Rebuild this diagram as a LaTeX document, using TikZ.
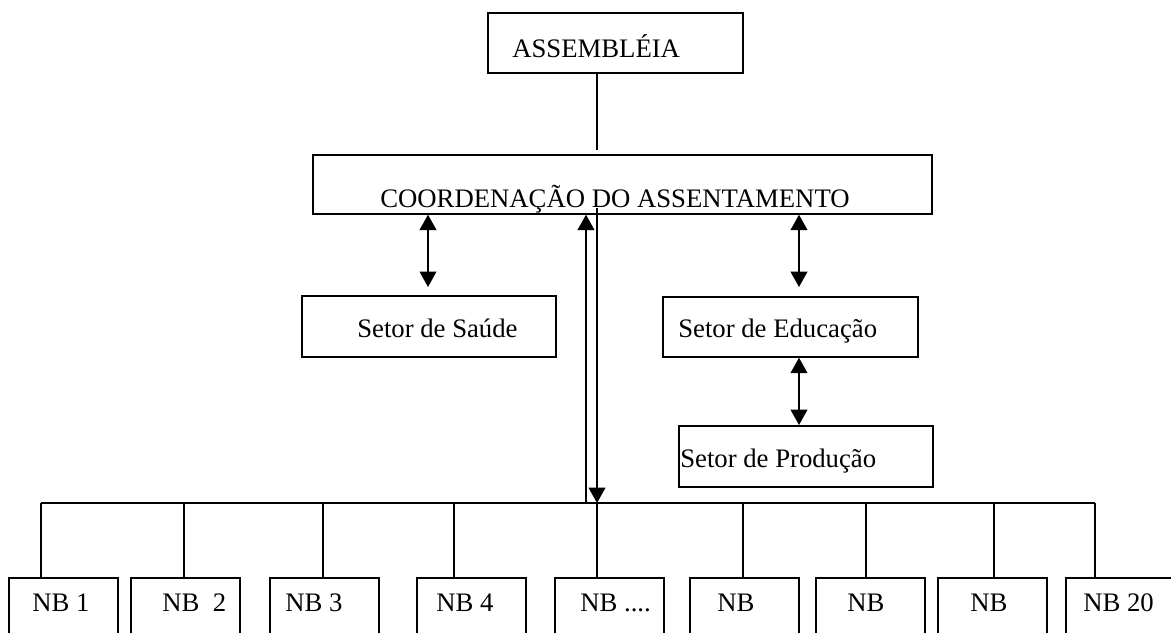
\documentclass[tikz,border=0pt]{standalone}
\usepackage{fontspec}
\setmainfont{Liberation Serif}
\usetikzlibrary{arrows.meta,fit}
\tikzset{
  caixa/.style={draw,line width=1pt,inner sep=0pt},
  rotulo/.style={anchor=base west,inner sep=0pt,font=\fontsize{19}{23}\selectfont},
  ponta/.tip={Triangle[length=11pt,width=12pt]},
  seta/.style={line width=1pt,ponta-ponta},
  linha/.style={line width=1pt}
}
\begin{document}
\begin{tikzpicture}[x=0.025cm,y=-0.025cm]
      \useasboundingbox (0,0) rectangle (1171,632);
      \clip (0,0) rectangle (1171,632);
      %caixas
      \node[caixa,fit={(488,13) (743,73)}] (assembleia) {};
      \node[rotulo] (assembleiatxt) at (512,57) {ASSEMBLÉIA};
      \node[caixa,fit={(313,155) (932,214)}] (coord) {};
      \node[rotulo] (coordtxt) at (380,207) {COORDENAÇÃO DO ASSENTAMENTO};
      \node[caixa,fit={(302,296) (556,357)}] (saude) {};
      \node[rotulo] (saudetxt) at (357,337) {Setor de Saúde};
      \node[caixa,fit={(663,297) (918,357)}] (educacao) {};
      \node[rotulo] (educacaotxt) at (678,337) {Setor de Educação};
      \node[caixa,fit={(679,426) (933,487)}] (producao) {};
      \node[rotulo] (producaotxt) at (680,467) {Setor de Produção};
      %ligacoes
      \coordinate (assfim) at (597,150);
      \coordinate (saudeseta) at (428,287);
      \coordinate (educseta) at (799,287);
      \coordinate (prodseta) at (799,425);
      \coordinate (desce) at (597,208);
      \coordinate (barraesq) at (41,503);
      \coordinate (barradir) at (1095,503);
      \draw[linha] (assembleia.south -| assfim) -- (assfim);
      \draw[seta] (coord.south -| saudeseta) -- (saudeseta);
      \draw[seta] (coord.south -| educseta) -- (educseta);
      \draw[seta] (educacao.south -| prodseta) -- (prodseta);
      \draw[linha,-ponta] (desce) -- (desce |- barraesq);
      \draw[linha,-ponta] (barraesq -| 586,0) -- (coord.south -| 586,0);
      \draw[linha] (barraesq) -- (barradir);
      %nucleos de base
      \foreach \n/\xe/\xl/\xt/\nome in {1/9/41/32/{NB 1},2/131/184/162/{NB\ \ 2},3/270/323/285/{NB 3},
          4/417/454/436/{NB 4},5/555/597/580/{NB ....},6/690/743/717/{NB},7/816/866/847/{NB},
          8/938/994/970/{NB},9/1066/1095/1083/{NB 20}}{
        \node[caixa,fit={(\xe,578) (\xe+109,660)}] (nb\n) {};
        \node[rotulo] (nbtxt\n) at (\xt,611) {\nome};
        \draw[linha] (barraesq -| \xl,0) -- (nb\n.north -| \xl,0);
      }
\end{tikzpicture}
\end{document}
